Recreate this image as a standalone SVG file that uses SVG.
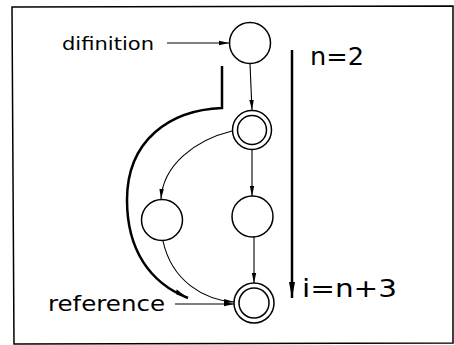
<svg xmlns="http://www.w3.org/2000/svg" width="454" height="345" viewBox="0 0 454 345">
<defs>
<style>
.n{fill:none;stroke:#000;stroke-width:1.5}
.e{fill:none;stroke:#000;stroke-width:1.1;marker-end:url(#a)}
.t{font-family:"DejaVu Sans","Liberation Sans",sans-serif;fill:#000}
</style>
<marker id="a" viewBox="0 0 10 6" refX="10" refY="3" markerWidth="10" markerHeight="6" markerUnits="userSpaceOnUse" orient="auto">
<path d="M0,0.8 L10,3 L0,5.2 Z" fill="#000"/>
</marker>
<marker id="b" viewBox="0 0 16 6" refX="16" refY="3" markerWidth="16" markerHeight="6" markerUnits="userSpaceOnUse" orient="auto">
<path d="M0,0 L16,3 L0,6 Z" fill="#000"/>
</marker>
<marker id="c" viewBox="0 0 14 8" refX="14" refY="4" markerWidth="14" markerHeight="8" markerUnits="userSpaceOnUse" orient="auto">
<path d="M0,0 L14,4 L2,5 Z" fill="#000"/>
</marker>
</defs>
<rect width="454" height="345" fill="#fff"/>
<path d="M12,7 L453,6 L453,343 L14,344 Z" fill="none" stroke="#000" stroke-width="1.5"/>
<g id="connectors">
<path class="e" d="M167,43 H229"/>
<path class="e" d="M175,304 H234"/>
<path class="e" d="M250,64 L252,110"/>
<path class="e" d="M252,150 V196"/>
<path class="e" d="M254,237 V283"/>
<path class="e" d="M232,131 C195,140 163,165 161,199"/>
<path class="e" d="M163,241 C172,282 205,300 234,302"/>
<path d="M222,66 V108 C170,110 127,140 127,200 C127,250 150,283 188,298" fill="none" stroke="#000" stroke-width="2.5" marker-end="url(#c)"/>
<path d="M292,50 V298" fill="none" stroke="#000" stroke-width="2.5" marker-end="url(#b)"/>
</g>
<g id="n1"><circle class="n" cx="250" cy="43" r="20.5"/></g>
<g id="n2"><circle class="n" cx="252" cy="130" r="19.5"/><circle class="n" cx="252" cy="130" r="14.5"/></g>
<g id="n3"><circle class="n" cx="252.5" cy="216.5" r="20.5"/></g>
<g id="n4"><circle class="n" cx="162" cy="220" r="20.5"/></g>
<g id="n5"><circle class="n" cx="254" cy="303" r="20"/><circle class="n" cx="254" cy="303" r="15"/></g>
<g id="labels">
<text class="t" x="62" y="50" font-size="17" textLength="92" lengthAdjust="spacingAndGlyphs">difinition</text>
<text class="t" x="48" y="311" font-size="21" textLength="117" lengthAdjust="spacingAndGlyphs">reference</text>
<text class="t" x="310" y="65" font-size="24" textLength="54" lengthAdjust="spacingAndGlyphs">n=2</text>
<text class="t" x="302" y="297" font-size="25" textLength="95" lengthAdjust="spacingAndGlyphs">i=n+3</text>
</g>
</svg>
